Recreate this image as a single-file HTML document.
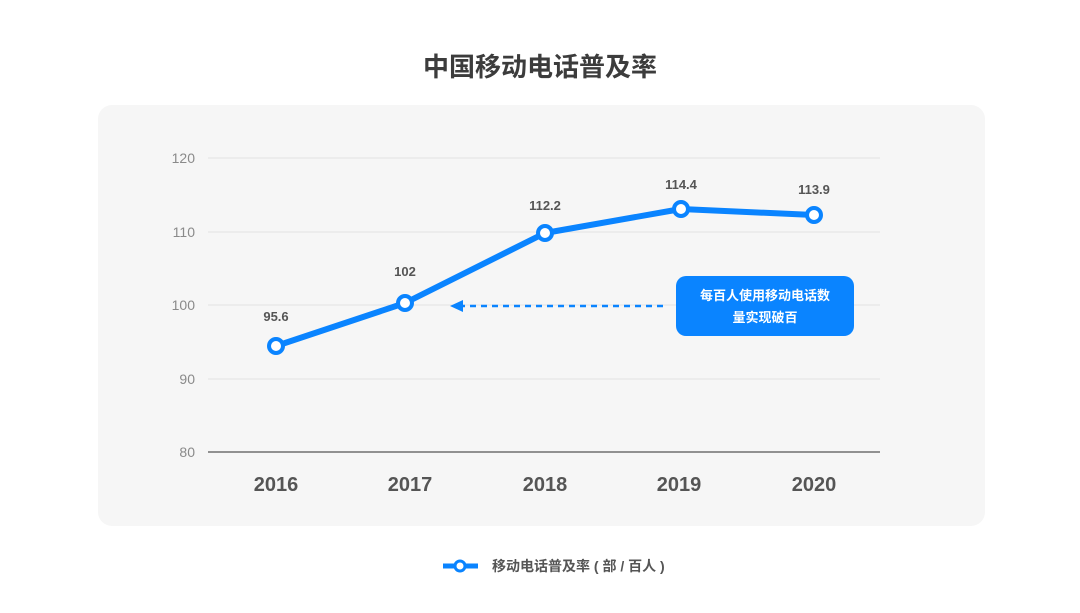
<!DOCTYPE html>
<html><head><meta charset="utf-8"><style>
body{margin:0;width:1080px;height:608px;background:#fff;overflow:hidden}
svg text{font-family:"Liberation Sans","Noto Sans CJK SC",sans-serif}
</style></head><body>
<svg width="1080" height="608" xmlns="http://www.w3.org/2000/svg">
<text x="540" y="76" text-anchor="middle" font-size="26" font-weight="bold" fill="#3c3c3c">中国移动电话普及率</text>
<rect x="98" y="105" width="887" height="421" rx="14" fill="#f6f6f6"/>
<g stroke="#e2e2e2" stroke-width="1">
<line x1="208" y1="158" x2="880" y2="158"/><line x1="208" y1="232" x2="880" y2="232"/>
<line x1="208" y1="305" x2="880" y2="305"/><line x1="208" y1="379" x2="880" y2="379"/>
</g>
<line x1="208" y1="452" x2="880" y2="452" stroke="#555" stroke-width="1.2"/>
<g font-size="14" fill="#8a8a8a" text-anchor="end">
<text x="195" y="163">120</text><text x="195" y="237">110</text><text x="195" y="310">100</text><text x="195" y="384">90</text><text x="195" y="457">80</text>
</g>
<g font-size="20" font-weight="bold" fill="#555" text-anchor="middle">
<text x="276" y="491">2016</text><text x="410" y="491">2017</text><text x="545" y="491">2018</text><text x="679" y="491">2019</text><text x="814" y="491">2020</text>
</g>
<polyline points="276,346 405,303 545,233 681,209 814,215" fill="none" stroke="#0a84ff" stroke-width="6" stroke-linejoin="round"/>
<g fill="#fff" stroke="#0a84ff" stroke-width="4">
<circle cx="276" cy="346" r="7"/><circle cx="405" cy="303" r="7"/><circle cx="545" cy="233" r="7"/><circle cx="681" cy="209" r="7"/><circle cx="814" cy="215" r="7"/>
</g>
<g font-size="13" font-weight="bold" fill="#555" text-anchor="middle">
<text x="276" y="321">95.6</text><text x="405" y="276">102</text><text x="545" y="210">112.2</text><text x="681" y="189">114.4</text><text x="814" y="194">113.9</text>
</g>
<line x1="663" y1="306" x2="462" y2="306" stroke="#0a84ff" stroke-width="2.5" stroke-dasharray="6,5"/>
<polygon points="450,306 463,300 463,312" fill="#0a84ff"/>
<rect x="676" y="276" width="178" height="60" rx="10" fill="#0a84ff"/>
<text x="765" y="300" text-anchor="middle" font-size="13" font-weight="bold" fill="#fff">每百人使用移动电话数</text>
<text x="765" y="322" text-anchor="middle" font-size="13" font-weight="bold" fill="#fff">量实现破百</text>
<line x1="443" y1="566" x2="478" y2="566" stroke="#0a84ff" stroke-width="5"/>
<circle cx="460" cy="566" r="5" fill="#fff" stroke="#0a84ff" stroke-width="3"/>
<text x="492" y="571" font-size="14" font-weight="bold" fill="#555">移动电话普及率 ( 部 / 百人 )</text>
</svg>
</body></html>
